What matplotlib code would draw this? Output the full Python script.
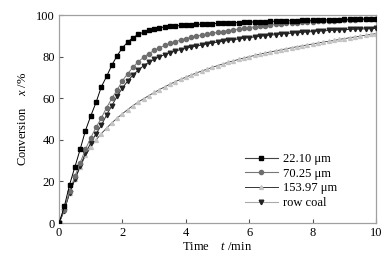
import numpy as np
import matplotlib
matplotlib.use("Agg")
import matplotlib.pyplot as plt
from matplotlib.lines import Line2D

plt.rcParams['font.family'] = ['Liberation Serif', 'DejaVu Serif']
plt.rcParams['mathtext.fontset'] = 'custom'
plt.rcParams['mathtext.it'] = 'Liberation Serif:italic'
plt.rcParams['mathtext.rm'] = 'Liberation Serif'

# sampling time (min), one point every 10 s
t = np.arange(61) / 6.0

# conversion x (%) for each particle size
x_22 = [0, 8, 18.5, 27, 35.5, 44.5, 51.5, 58, 65.5, 70.5, 76, 80.5, 84.3, 87, 89.2, 90.7,
        91.8, 92.7, 93.4, 93.9, 94.3, 94.6, 94.8, 95.0, 95.2, 95.3, 95.5, 95.6, 95.8, 95.9,
        96.0, 96.1, 96.2, 96.3, 96.4, 96.5, 96.6, 96.7, 96.8, 96.9, 97.0, 97.0, 97.1,
        97.2, 97.3, 97.3, 97.4, 97.5, 97.5, 97.6, 97.7, 97.7, 97.8, 97.8, 97.9,
        98.0, 98.0, 98.1, 98.1, 98.2, 98.2]
x_70 = [0, 6.5, 15.5, 22.5, 29, 35.5, 41, 46, 50.5, 55.5, 60, 64, 68.5, 71.8, 75, 77.6,
        79.7, 81.5, 83, 84.3, 85.4, 86.4, 87.2, 88.0, 88.7, 89.3, 89.9, 90.4, 90.9, 91.3,
        91.7, 92.1, 92.5, 92.9, 93.3, 93.7, 94.0, 94.3, 94.6, 94.9, 95.2, 95.5, 95.8,
        96.0, 96.2, 96.4, 96.6, 96.8, 96.9, 97.0, 97.1, 97.2, 97.3, 97.5, 97.6,
        97.7, 97.8, 97.9, 98.0, 98.1, 98.2]
x_154 = [0, 6.5, 14.5, 21, 27, 32.5, 36.5, 40, 43, 45.7, 48.2, 50.5, 52.6, 54.6, 56.5, 58.2,
         59.8, 61.3, 62.8, 64.2, 65.5, 66.8, 68.0, 69.1, 70.2, 71.2, 72.2, 73.1, 74.0, 74.9,
         75.7, 76.5, 77.3, 78.0, 78.7, 79.4, 80.0, 80.6, 81.2, 81.8, 82.3, 82.8, 83.3,
         83.8, 84.3, 84.8, 85.2, 85.7, 86.1, 86.6, 87.0, 87.4, 87.8, 88.3, 88.7,
         89.1, 89.5, 89.9, 90.3, 90.7, 91.1]
x_raw = [0, 6, 14.5, 21, 27.5, 33.5, 38.5, 43, 47, 52, 56.5, 61, 65, 68.3, 71.2, 73.6,
         75.6, 77.3, 78.8, 80.0, 81.0, 81.9, 82.7, 83.4, 84.0, 84.6, 85.1, 85.6, 86.1, 86.6,
         87.0, 87.4, 87.8, 88.2, 88.5, 88.9, 89.2, 89.5, 89.8, 90.1, 90.4, 90.6, 90.9,
         91.1, 91.3, 91.5, 91.7, 91.9, 92.1, 92.3, 92.4, 92.6, 92.7, 92.9, 93.0,
         93.1, 93.2, 93.3, 93.4, 93.5, 93.6]

labels = ['22.10 μm', '70.25 μm', '153.97 μm', 'row coal']

fig = plt.figure(figsize=(3.91, 2.6), dpi=100)
ax = fig.add_axes([0.151, 0.142, 0.811, 0.800])

ax.plot(t, x_154, '-', color='#333333', lw=0.6, marker='^', ms=2.8,
        mfc='#c4c4c4', mec='#c4c4c4', zorder=2)
ax.plot(t, x_raw, '-', color='#222222', lw=0.7, marker='v', ms=3.3,
        mfc='#222222', mec='#222222', zorder=3)
ax.plot(t, x_70, '-', color='#777777', lw=0.7, marker='o', ms=3.0,
        mfc='#6e6e6e', mec='#6e6e6e', zorder=3)
ax.plot(t, x_22, '-', color='black', lw=0.7, marker='s', ms=3.0,
        mfc='black', mec='black', zorder=4)

# legend handles drawn as in the original figure
handles = [
    Line2D([], [], color='#444444', lw=0.8, marker='s', ms=3.0, mfc='black', mec='black'),
    Line2D([], [], color='#777777', lw=0.8, marker='o', ms=3.0, mfc='#6e6e6e', mec='#6e6e6e'),
    Line2D([], [], color='#333333', lw=0.7, marker='^', ms=2.8, mfc='#c4c4c4', mec='#c4c4c4'),
    Line2D([], [], color='#aaaaaa', lw=0.8, marker='v', ms=3.3, mfc='#222222', mec='#222222'),
]
ax.legend(handles, labels, loc='lower left', bbox_to_anchor=(0.571, 0.043), frameon=False,
          borderaxespad=0, fontsize=9, handlelength=2.6, handletextpad=0.45,
          labelspacing=0.22)

ax.set_xlim(0, 10)
ax.set_ylim(0, 100)
ax.set_xticks([0, 2, 4, 6, 8, 10])
ax.set_yticks([0, 20, 40, 60, 80, 100])
ax.tick_params(direction='in', length=3, width=0.8, labelsize=9, color='#555555',
               top=False, right=False, pad=3)
for s in ax.spines.values():
    s.set_color('#a0a0a0')
    s.set_linewidth(0.9)

ax.set_xlabel('Time    $t$ /min', fontsize=9, labelpad=1)
ax.set_ylabel('Conversion    $x$ /%', fontsize=9, labelpad=5)

fig.savefig('out.png', dpi=100)
